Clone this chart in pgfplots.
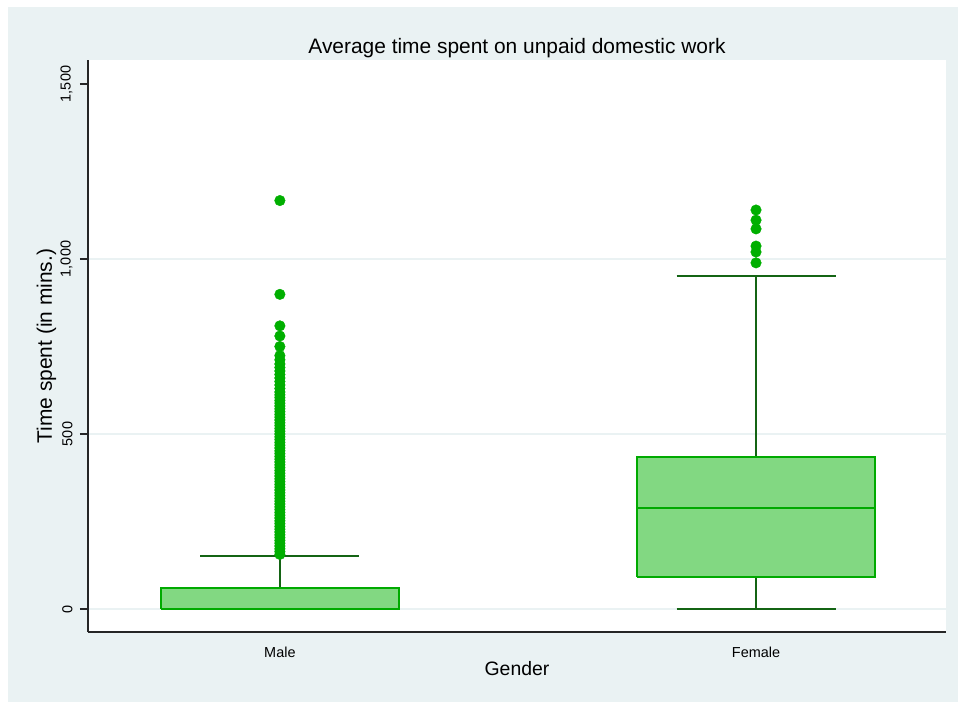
\documentclass[border=0pt]{standalone}
\usepackage{pgfplots}
\pgfplotsset{compat=1.18}
\usepackage{fontspec}
\setmainfont{Liberation Sans}
\definecolor{bgc}{RGB}{234,242,243}
\definecolor{boxfill}{RGB}{130,216,130}
\definecolor{boxline}{RGB}{0,170,0}
\definecolor{whisk}{RGB}{20,100,20}
\definecolor{mk}{RGB}{0,175,0}
\definecolor{gridc}{RGB}{234,242,243}
\begin{document}
\begin{tikzpicture}
\fill[white] (-88bp,-70bp) rectangle (870bp,632bp);
\fill[bgc] (-80bp,-70bp) rectangle (870bp,625bp);
\begin{axis}[
  at={(0,0)}, anchor=south west,
  scale only axis, width=858bp, height=572bp,
  axis background/.style={fill=white},
  xmin=0.597, xmax=2.399,
  ymin=-65.7, ymax=1568.6,
  axis x line*=bottom, axis y line*=left,
  axis line style={-, line width=1.2bp, black!85},
  xtick={1,2}, xticklabels={Male,Female},
  major x tick style={draw=none},
  ytick={0,500,1000}, yticklabels={0,500,1{,}000},
  extra y ticks={1500}, extra y tick labels={1{,}500},
  extra y tick style={grid=none},
  ymajorgrids, major grid style={gridc, line width=1.5bp},
  tick align=outside, major tick length=8bp,
  major y tick style={line width=1.2bp, black!85},
  yticklabel shift=4bp,
  yticklabel style={rotate=90, anchor=south, font=\fontsize{14.5}{16}\selectfont},
  xticklabel style={font=\fontsize{14.5}{16}\selectfont, anchor=base, yshift=-17bp},
  xlabel={Gender}, ylabel={Time spent (in mins.)},
  xlabel style={font=\fontsize{19.5}{22}\selectfont, at={(0.5,-0.0769)}, anchor=base},
  ylabel style={font=\fontsize{21}{23}\selectfont, at={(-0.042,0.5)}, anchor=base},
  title={Average time spent on unpaid domestic work},
  title style={font=\fontsize{21}{23}\selectfont, at={(0.5,1.0017)}, anchor=base},
  clip=false,
]
% whiskers
\addplot[whisk, line width=1.6bp] coordinates {(1,60)(1,151)};
\addplot[whisk, line width=1.6bp] coordinates {(0.833,151)(1.167,151)};
\addplot[whisk, line width=1.6bp] coordinates {(0.833,0)(1.167,0)};
\addplot[whisk, line width=1.6bp] coordinates {(2,434)(2,951)};
\addplot[whisk, line width=1.6bp] coordinates {(1.833,951)(2.167,951)};
\addplot[whisk, line width=1.6bp] coordinates {(2,0)(2,91)};
\addplot[whisk, line width=1.6bp] coordinates {(1.833,0)(2.167,0)};
% boxes
\addplot[draw=boxline, fill=boxfill, line width=1.6bp, line join=miter] coordinates {(0.75,0)(1.25,0)(1.25,60)(0.75,60)(0.75,0)};
\addplot[draw=boxline, line width=1.6bp] coordinates {(0.75,0)(1.25,0)};
\addplot[draw=boxline, fill=boxfill, line width=1.6bp, line join=miter] coordinates {(1.75,91)(2.25,91)(2.25,434)(1.75,434)(1.75,91)};
\addplot[draw=boxline, line width=1.6bp] coordinates {(1.75,289)(2.25,289)};
% outliers
\addplot[only marks, mark=*, mark size=5.3pt, mark options={draw=mk, fill=mk}] coordinates {
(1,156)(1,164)(1,172)(1,180)(1,188)(1,196)(1,204)(1,212)(1,220)(1,228)
(1,236)(1,244)(1,252)(1,260)(1,268)(1,276)(1,284)(1,292)(1,300)(1,308)
(1,316)(1,324)(1,332)(1,340)(1,348)(1,356)(1,364)(1,372)(1,380)(1,388)
(1,396)(1,404)(1,412)(1,420)(1,428)(1,436)(1,444)(1,452)(1,460)(1,468)
(1,476)(1,484)(1,492)(1,500)(1,508)(1,516)(1,524)(1,532)(1,540)(1,548)
(1,556)(1,564)(1,572)(1,580)(1,588)(1,596)(1,604)(1,612)(1,620)(1,630)
(1,640)(1,650)(1,660)(1,670)(1,680)(1,690)(1,700)(1,712)(1,724)
(1,750)(1,780)(1,809)(1,899)(1,1167)
(2,989)(2,1020)(2,1037)(2,1086)(2,1111)(2,1140)
};
\end{axis}
\end{tikzpicture}
\end{document}
